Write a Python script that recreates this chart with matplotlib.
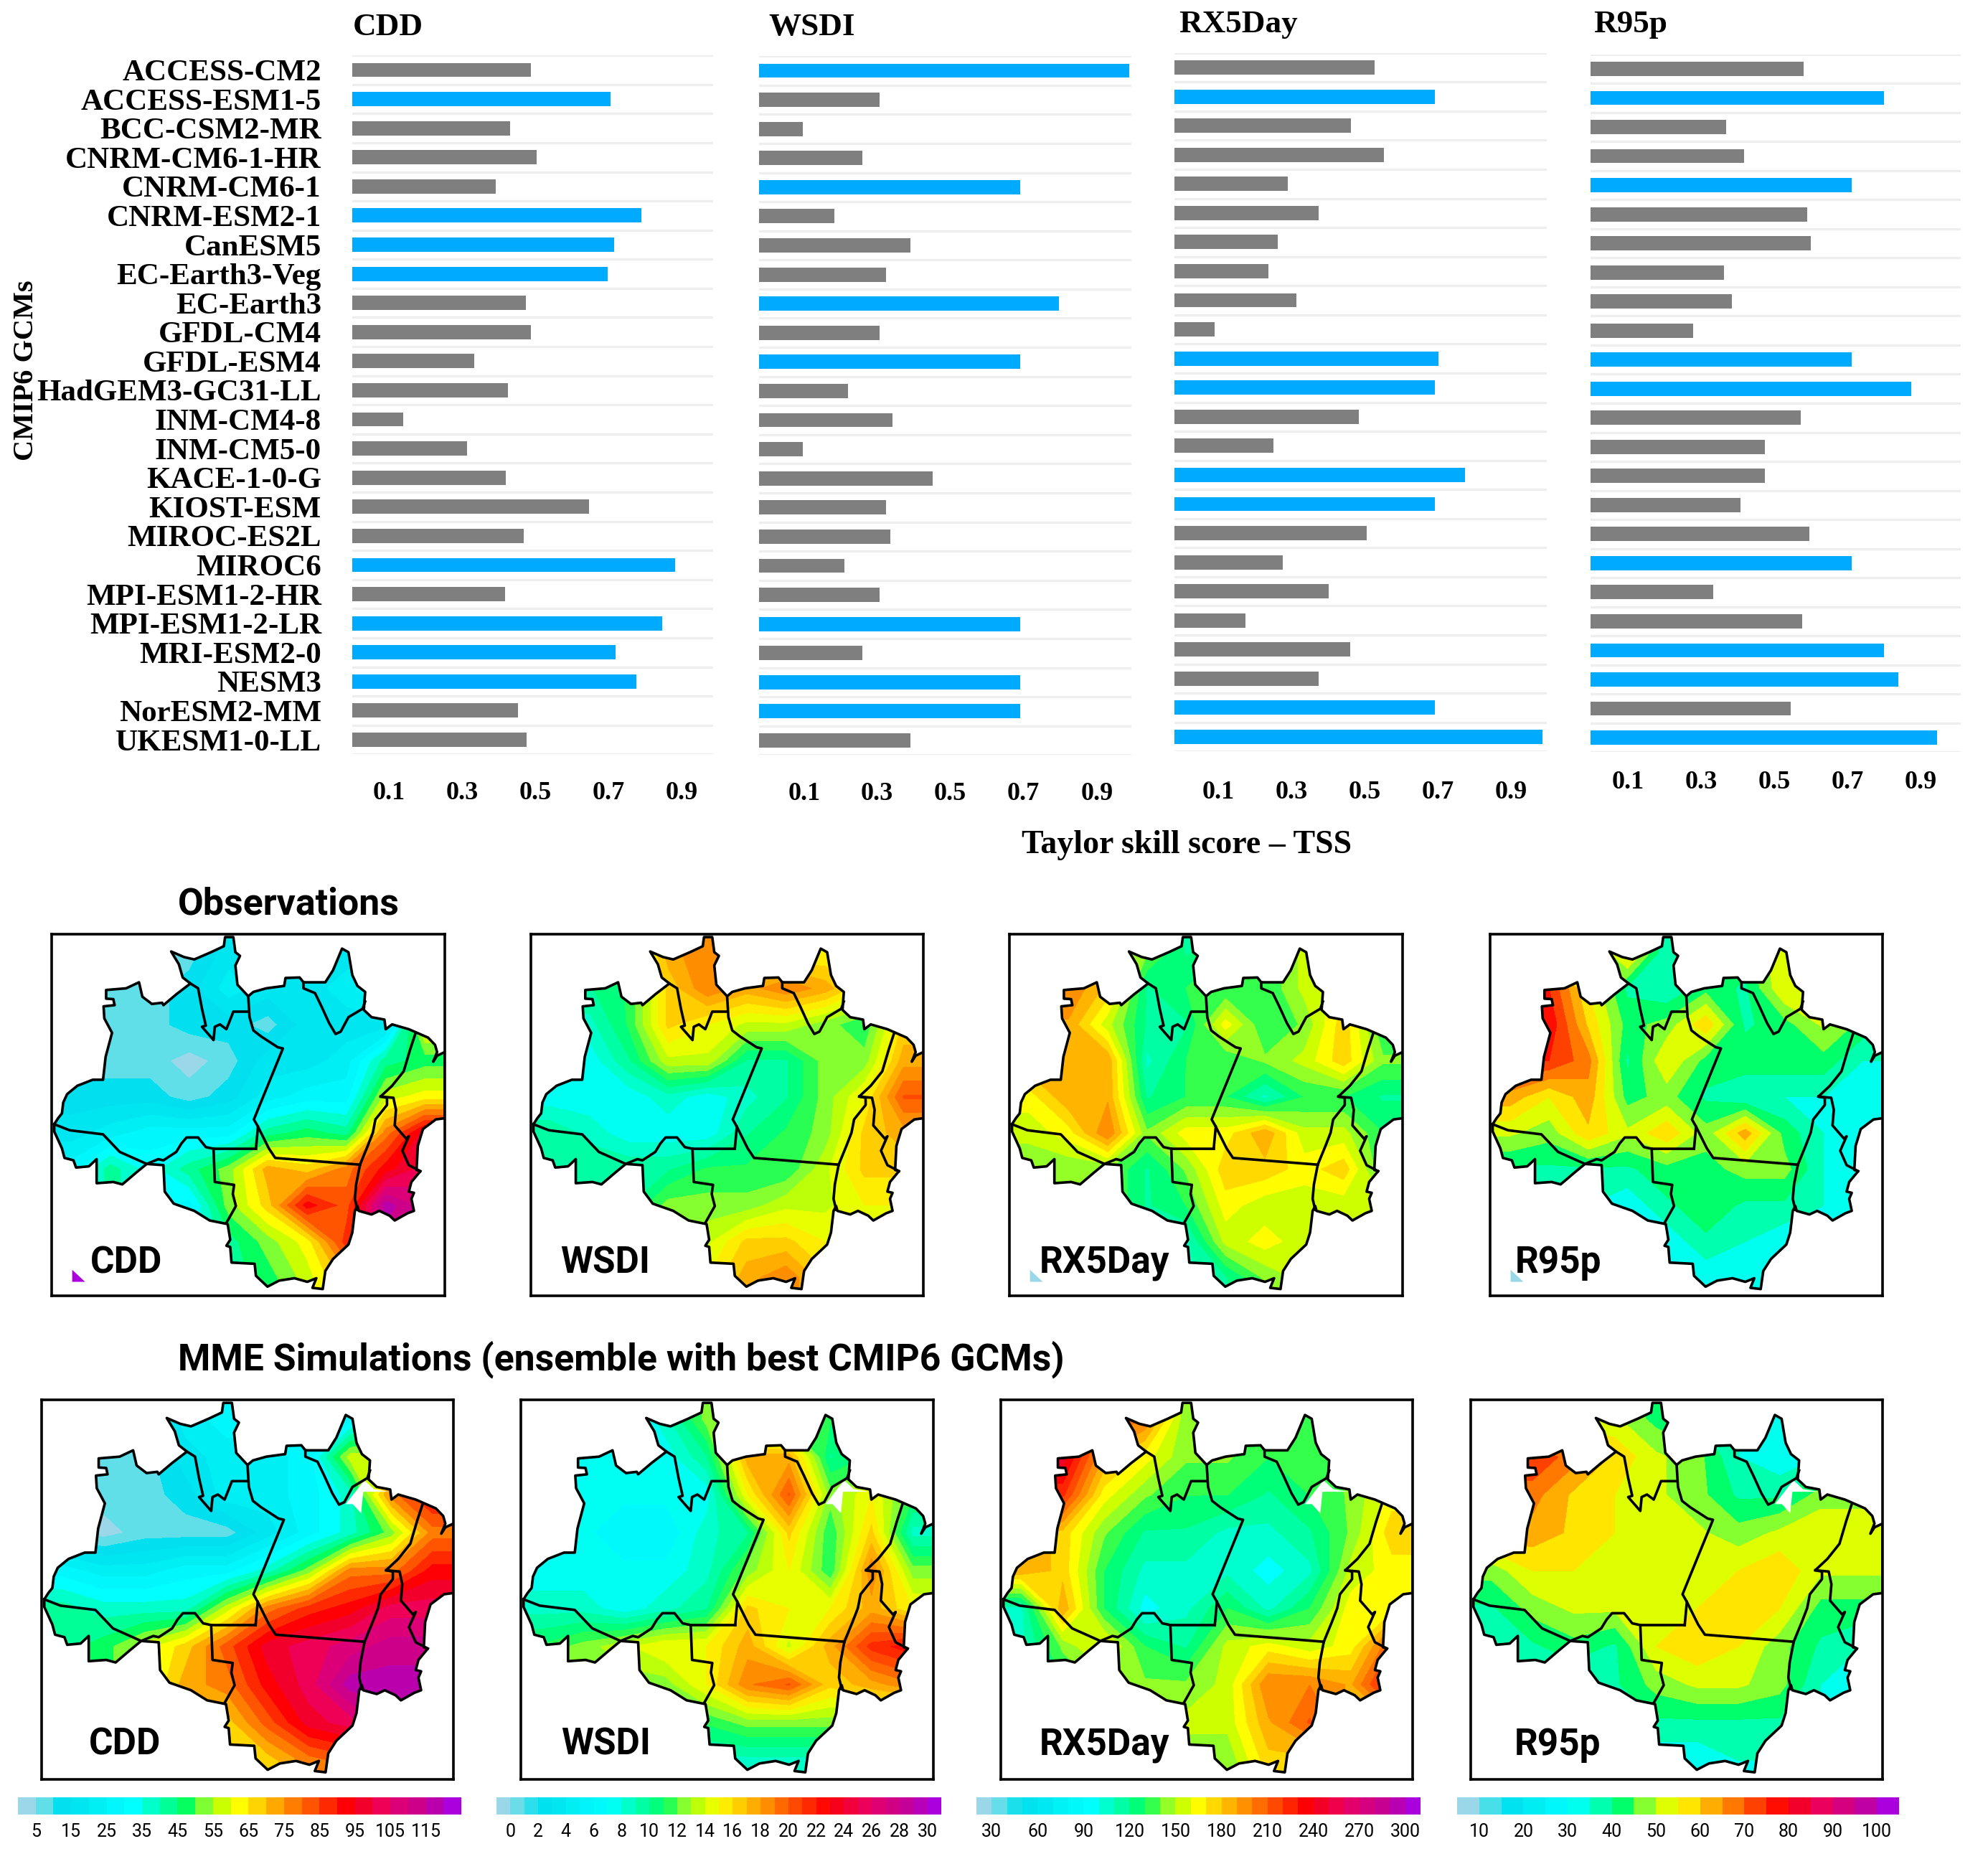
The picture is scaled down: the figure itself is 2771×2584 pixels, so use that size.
# -*- coding: utf-8 -*-
import numpy as np
import matplotlib
matplotlib.use('Agg')
import matplotlib.pyplot as plt
from matplotlib.colors import BoundaryNorm, LinearSegmentedColormap, ListedColormap
from matplotlib.patches import Polygon
from matplotlib.colorbar import ColorbarBase

W, H = 2771, 2584

# bar charts - Taylor skill score
models = ['ACCESS-CM2', 'ACCESS-ESM1-5', 'BCC-CSM2-MR', 'CNRM-CM6-1-HR', 'CNRM-CM6-1', 'CNRM-ESM2-1',
          'CanESM5', 'EC-Earth3-Veg', 'EC-Earth3', 'GFDL-CM4', 'GFDL-ESM4', 'HadGEM3-GC31-LL',
          'INM-CM4-8', 'INM-CM5-0', 'KACE-1-0-G', 'KIOST-ESM', 'MIROC-ES2L', 'MIROC6',
          'MPI-ESM1-2-HR', 'MPI-ESM1-2-LR', 'MRI-ESM2-0', 'NESM3', 'NorESM2-MM', 'UKESM1-0-LL']
tss_cdd = [.489, .706, .431, .504, .392, .79, .716, .699, .475, .489, .333, .426,
           .14, .313, .419, .648, .469, .883, .417, .848, .72, .776, .452, .476]
tss_wsdi = [1.012, .329, .119, .283, .714, .205, .413, .348, .819, .329, .714, .244,
            .365, .119, .474, .348, .359, .234, .329, .714, .283, .714, .714, .413]
tss_rx5 = [.547, .711, .482, .573, .309, .394, .283, .257, .333, .11, .722, .711,
           .504, .27, .794, .711, .525, .296, .422, .195, .48, .394, .711, 1.005]
tss_r95 = [.582, .802, .37, .419, .714, .592, .601, .365, .387, .281, .714, .876,
           .575, .476, .476, .409, .599, .714, .335, .579, .802, .841, .547, .947]
tss_ticks = [0.1, 0.3, 0.5, 0.7, 0.9]
index_names = ['CDD', 'WSDI', 'RX5Day', 'R95p']

# colour bars: class edges and the labelled values
bins_cdd = list(range(0, 130, 5))
bins_wsdi = list(range(-1, 32, 1))
bins_rx5 = list(range(20, 320, 10))
bins_r95 = list(range(5, 110, 5))
ticks_cdd = [5, 15, 25, 35, 45, 55, 65, 75, 85, 95, 105, 115]
ticks_wsdi = list(range(0, 32, 2))
ticks_rx5 = list(range(30, 330, 30))
ticks_r95 = list(range(10, 110, 10))

ramp = ['#9ad7e8', '#5cdfe9', '#00dfee', '#00e6f0', '#00eff5', '#00f7fb', '#00ffff', '#00ffc8',
        '#00ff96', '#00ff60', '#80ff33', '#c8ff00', '#ffff00', '#ffd500', '#ffaa00', '#ff8000',
        '#ff5500', '#ff2a00', '#ff0000', '#f2002a', '#f00055', '#dd0077', '#cc0088', '#bb00aa', '#aa00dd']

# map fields, read as position along the colour bar (0 = first class, 24 = last), 10 x 10 cells
obs_cdd = [[1, 1, 1, 1, 3, 3, 3, 3, 3, 3],
           [1, 1, 1, 2, 4, 3, 3, 4, 6, 6],
           [1, 1, 1, 2, 2, 1, 3, 3, 3, 12],
           [1, 1, 1, 0, 1, 3, 3, 4, 8, 9],
           [2, 2, 2, 1, 2, 4, 5, 5, 11, 12],
           [3, 4, 5, 5, 5, 8, 9, 8, 15, 19],
           [5, 8, 6, 8, 10, 14, 13, 15, 18, 20],
           [5, 8, 6, 5, 10, 13, 18, 16, 23, 21],
           [5, 8, 6, 6, 8, 10, 12, 17, 22, 21],
           [6, 8, 6, 6, 8, 9, 11, 14, 21, 21]]
obs_wsdi = [[10, 10, 10, 14, 15, 13, 12, 12, 13, 13],
            [8, 8, 9, 13, 15, 14, 15, 14, 12, 12],
            [7, 7, 9, 13, 12, 11, 11, 10, 9, 13],
            [6, 6, 8, 11, 11, 8, 8, 10, 10, 14],
            [6, 6, 6, 7, 6, 7, 8, 10, 12, 16],
            [8, 7, 6, 6, 6, 8, 9, 10, 13, 14],
            [8, 8, 8, 8, 9, 9, 9, 11, 13, 13],
            [8, 8, 8, 10, 10, 10, 11, 11, 12, 12],
            [8, 8, 8, 10, 11, 13, 13, 12, 12, 12],
            [8, 8, 8, 10, 12, 14, 15, 13, 12, 12]]
obs_rx5 = [[11, 11, 11, 10, 8, 9, 9, 11, 11, 11],
           [15, 15, 13, 8, 9, 9, 9, 11, 12, 12],
           [14, 14, 11, 8, 8, 12, 9, 10, 13, 9],
           [14, 14, 14, 7, 9, 9, 10, 11, 13, 10],
           [12, 14, 14, 8, 9, 9, 7, 9, 9, 8],
           [11, 12, 15, 10, 12, 12, 14, 11, 11, 9],
           [10, 10, 10, 8, 10, 13, 13, 12, 13, 9],
           [10, 10, 10, 8, 9, 12, 11, 11, 11, 11],
           [8, 8, 8, 8, 7, 11, 12, 11, 11, 11],
           [8, 8, 8, 7, 7, 8, 10, 11, 11, 11]]
obs_r95 = [[8, 8, 8, 13, 7, 8, 9, 12, 12, 12],
           [17, 17, 12, 8, 7, 9, 8, 12, 12, 10],
           [18, 18, 13, 9, 10, 13, 8, 9, 11, 9],
           [17, 17, 15, 8, 12, 9, 9, 9, 9, 7],
           [14, 12, 14, 9, 10, 8, 7, 7, 7, 6],
           [11, 10, 13, 11, 13, 10, 14, 9, 7, 6],
           [8, 8, 8, 8, 9, 9, 10, 10, 7, 7],
           [7, 7, 7, 6, 8, 9, 8, 8, 7, 7],
           [7, 7, 7, 6, 6, 8, 7, 6, 7, 7],
           [6, 6, 6, 6, 6, 6, 6, 6, 6, 6]]
mme_cdd = [[1, 1, 1, 4, 5, 5, 5, 5, 6, 6],
           [1, 1, 1, 3, 4, 4, 5, 11, 11, 11],
           [1, 1, 1, 2, 4, 4, 5, 7, 15, 18],
           [1, 0, 1, 1, 1, 3, 5, 7, 10, 15],
           [5, 4, 4, 5, 5, 7, 10, 15, 15, 18],
           [8, 7, 7, 7, 11, 15, 17, 18, 20, 20],
           [8, 9, 11, 13, 16, 19, 20, 21, 22, 22],
           [9, 9, 11, 14, 15, 18, 20, 23, 23, 23],
           [9, 9, 11, 13, 13, 16, 19, 20, 22, 22],
           [9, 9, 11, 13, 13, 13, 15, 16, 16, 16]]
mme_wsdi = [[5, 5, 5, 7, 10, 8, 8, 9, 9, 9],
            [6, 6, 6, 6, 8, 14, 14, 8, 9, 9],
            [6, 6, 6, 6, 6, 12, 16, 10, 12, 9],
            [6, 6, 5, 5, 7, 8, 13, 9, 13, 7],
            [6, 6, 6, 6, 7, 10, 12, 9, 15, 10],
            [7, 7, 6, 7, 8, 13, 12, 12, 14, 12],
            [9, 10, 11, 12, 12, 14, 11, 14, 17, 18],
            [9, 10, 10, 10, 12, 15, 16, 13, 14, 15],
            [9, 9, 9, 9, 9, 10, 10, 10, 10, 10],
            [7, 7, 7, 7, 7, 7, 7, 7, 7, 7]]
mme_rx5 = [[16, 16, 16, 15, 10, 10, 9, 9, 10, 10],
           [19, 19, 14, 12, 10, 10, 9, 9, 10, 10],
           [17, 17, 12, 10, 9, 9, 8, 9, 10, 12],
           [14, 13, 10, 8, 8, 7, 7, 8, 10, 13],
           [14, 13, 9, 7, 7, 7, 6, 7, 11, 12],
           [7, 14, 9, 6, 7, 9, 7, 9, 12, 12],
           [7, 10, 12, 9, 8, 11, 12, 11, 12, 16],
           [7, 9, 10, 10, 10, 11, 15, 15, 14, 18],
           [7, 9, 10, 10, 11, 11, 14, 16, 14, 14],
           [7, 9, 10, 10, 10, 10, 13, 13, 13, 13]]
mme_r95 = [[11, 11, 11, 11, 9, 8, 7, 6, 6, 6],
           [17, 17, 15, 13, 11, 10, 7, 6, 7, 7],
           [15, 15, 13, 12, 11, 10, 8, 8, 10, 10],
           [14, 14, 13, 12, 11, 11, 10, 11, 12, 12],
           [10, 12, 12, 11, 11, 11, 12, 13, 11, 11],
           [8, 10, 11, 11, 11, 12, 13, 12, 9, 9],
           [7, 8, 9, 8, 12, 13, 12, 10, 8, 7],
           [7, 7, 7, 8, 10, 11, 11, 10, 7, 7],
           [7, 7, 7, 7, 8, 8, 8, 8, 7, 7],
           [6, 6, 6, 6, 6, 6, 7, 7, 7, 7]]

# outline of the region and the state borders
outline = [(15, 790), (30, 765), (45, 745), (50, 700), (65, 665), (105, 630), (165, 605), (205, 605), (215, 510),
           (240, 410), (210, 350), (207, 300), (250, 295), (245, 270), (217, 268), (217, 232), (295, 225), (345, 200),
           (358, 260), (395, 290), (435, 285), (440, 295), (490, 250), (545, 205), (515, 180), (500, 125), (470, 72),
           (520, 95), (560, 105), (625, 75), (675, 50), (680, 12), (712, 12), (720, 75), (738, 90), (720, 130),
           (728, 210), (770, 258), (790, 240), (840, 225), (910, 215), (915, 182), (970, 180), (985, 200), (1070, 200),
           (1100, 150), (1135, 60), (1160, 75), (1175, 170), (1195, 215), (1225, 240), (1220, 315), (1250, 345),
           (1300, 355), (1305, 395), (1330, 375), (1395, 395), (1470, 430), (1497, 460), (1505, 490), (1490, 530),
           (1505, 505), (1535, 490), (1535, 765), (1500, 770), (1450, 810), (1430, 880), (1425, 980), (1440, 985),
           (1405, 1030), (1395, 1070), (1415, 1075), (1405, 1100), (1415, 1150), (1390, 1160), (1340, 1190),
           (1320, 1170), (1280, 1150), (1250, 1165), (1200, 1150), (1195, 1130), (1185, 1150), (1175, 1240),
           (1160, 1290), (1100, 1350), (1070, 1400), (1060, 1475), (1020, 1470), (1035, 1430), (1000, 1445),
           (950, 1430), (890, 1440), (845, 1465), (800, 1420), (795, 1370), (705, 1365), (700, 1300), (685, 1295),
           (700, 1270), (690, 1205), (620, 1190), (560, 1150), (480, 1120), (445, 1070), (440, 960), (375, 955),
           (335, 990), (280, 1040), (245, 1030), (180, 1035), (180, 935), (150, 965), (100, 970), (90, 940),
           (55, 930), (45, 890), (15, 820)]
border_acre = [(15, 790), (75, 815), (205, 832), (270, 905), (375, 955), (420, 935), (440, 940), (490, 905),
               (510, 870), (530, 845), (575, 845), (605, 885), (635, 892), (800, 892)]
border_para_am = [(800, 892), (808, 800), (792, 770), (905, 475), (885, 470), (820, 425), (790, 400), (775, 345),
                  (770, 258)]
border_roraima = [(545, 205), (575, 225), (590, 310), (605, 380), (590, 385), (635, 440), (640, 385), (660, 375),
                  (685, 395), (700, 355), (712, 322), (768, 322)]
border_rondonia = [(635, 892), (640, 1030), (715, 1042), (710, 1080), (722, 1130), (685, 1200)]
border_para_mt = [(808, 800), (850, 890), (875, 930), (1205, 958)]
border_para_east = [(1205, 958), (1235, 880), (1255, 825), (1265, 770), (1310, 710), (1310, 680), (1285, 675),
                    (1330, 630), (1375, 570), (1400, 480), (1420, 415)]
border_maranhao = [(1285, 675), (1335, 680), (1345, 730), (1340, 795), (1385, 850), (1395, 840), (1370, 900),
                   (1395, 960), (1440, 985)]
border_mt_to = [(1205, 958), (1190, 1040), (1185, 1100), (1195, 1145)]
border_amapa = [(985, 200), (985, 225), (1030, 245), (1055, 300), (1085, 370), (1110, 415), (1130, 405), (1160, 345),
                (1215, 310), (1225, 280)]
coast_gap = [(1135, 413), (1204, 319), (1240, 354), (1295, 364), (1200, 364), (1192, 449), (1161, 413)]
speck = [(85, 1395), (135, 1445), (85, 1445)]


def px_axes(fig, x0, y0, x1, y1):
    return fig.add_axes([x0 / W, 1 - y1 / H, (x1 - x0) / W, (y1 - y0) / H])


def bar_panel(fig, vals, x0, x1, y_first, y_last, tick_shift, tick_pad, labels):
    pitch = (y_last - y_first) / 23
    ax = px_axes(fig, x0, y_first - pitch / 2, x1, y_last + pitch / 2)
    colors = ['#00aaff' if v > 0.68 else '#7f7f7f' for v in vals]
    ax.barh(range(24), vals, height=0.49, color=colors, zorder=3)
    ax.set_ylim(23.5, -0.5)
    ax.set_xlim(0, (x1 - x0) / 510)
    for i in range(25):
        ax.axhline(i - 0.5, color='#eeeeee', lw=2.4, zorder=1)
    ax.set_xticks([t + tick_shift for t in tss_ticks])
    ax.set_xticklabels(['%.1f' % t for t in tss_ticks], family='Liberation Serif', weight='bold', fontsize=26)
    ax.tick_params(axis='x', length=0, pad=tick_pad)
    if labels:
        ax.set_yticks(range(24))
        ax.set_yticklabels(models, family='Liberation Serif', weight='bold', fontsize=31)
        ax.tick_params(axis='y', length=0, pad=31)
    else:
        ax.set_yticks([])
    for s in ax.spines.values():
        s.set_visible(False)
    return ax


def map_panel(fig, box, field, bins, cmap, name, name_x, gap=False, corner=None):
    ax = px_axes(fig, *box)
    lo, hi = bins[0], bins[-1]
    z = lo + (np.array(field, dtype=float) + 0.5) / 25 * (hi - lo)
    x = 5 + 153 * (np.arange(10) + 0.5)
    y = 150.3 * (np.arange(10) + 0.5)
    # extend to the frame so the contours reach the clipped edge
    x = np.r_[5, x, 1535]
    y = np.r_[0, y, 1503]
    z = np.pad(z, 1, mode='edge')
    cs = ax.contourf(x, y, z, levels=bins, cmap=cmap, norm=BoundaryNorm(bins, cmap.N), extend='both')
    clip = Polygon(outline, closed=True, transform=ax.transData, fc='none', ec='none')
    ax.add_patch(clip)
    cs.set_clip_path(clip)
    if gap:
        ax.add_patch(Polygon(coast_gap, closed=True, fc='white', ec='none', zorder=4))
    if corner:
        ax.add_patch(Polygon(speck, closed=True, fc=corner, ec='none', zorder=4))
    pts = np.array(outline + outline[:1])
    ax.plot(pts[:, 0], pts[:, 1], color='k', lw=2.6, zorder=5)
    for b in [border_acre, border_para_am, border_roraima, border_rondonia, border_para_mt,
              border_para_east, border_maranhao, border_mt_to, border_amapa]:
        b = np.array(b)
        ax.plot(b[:, 0], b[:, 1], color='k', lw=2.6, zorder=5)
    ax.set_xlim(5, 1535)
    ax.set_ylim(1503, 0)
    ax.set_xticks([])
    ax.set_yticks([])
    for s in ax.spines.values():
        s.set_linewidth(2.6)
    ax.text(name_x, 0.091, name, transform=ax.transAxes, family='Roboto', weight='bold', fontsize=37,
            ha='left', va='center', zorder=6)
    return ax


def color_bar(fig, x0, x1, bins, ticks, cmap):
    ax = px_axes(fig, x0, 2505, x1, 2529)
    cb = ColorbarBase(ax, cmap=cmap, norm=BoundaryNorm(bins, cmap.N), orientation='horizontal',
                      ticks=ticks, spacing='uniform', drawedges=False)
    cb.outline.set_visible(False)
    ax.minorticks_off()
    ax.tick_params(axis='x', length=0, pad=9)
    ax.set_xticklabels([str(t) for t in ticks], family='Roboto', fontsize=18)


fig = plt.figure(figsize=(W / 100, H / 100), dpi=100)

base = LinearSegmentedColormap.from_list('ramp', ramp)
all_bins = [bins_cdd, bins_wsdi, bins_rx5, bins_r95]
all_ticks = [ticks_cdd, ticks_wsdi, ticks_rx5, ticks_r95]
cmaps = [ListedColormap(base(np.linspace(0, 1, len(b) - 1))) for b in all_bins]

# top row
bar_panel(fig, tss_cdd, 491, 994, 97.5, 1031, 0, 27, True)
bar_panel(fig, tss_wsdi, 1058, 1577, 98.5, 1032, 0.023, 27.5, False)
bar_panel(fig, tss_rx5, 1637, 2156, 94, 1027, 0.02, 29.5, False)
bar_panel(fig, tss_r95, 2217, 2733, 96, 1028, 0.003, 18.5, False)

title_x = [492, 1071, 1643, 2221]
title_y = [38, 38, 34, 34]
for i in range(4):
    fig.text(title_x[i] / W, 1 - title_y[i] / H, index_names[i], family='Liberation Serif', weight='bold',
             fontsize=32.5, ha='left', va='center')
fig.text(37 / W, 1 - 516 / H, 'CMIP6 GCMs', family='Liberation Serif', weight='bold', fontsize=29,
         rotation=90, ha='center', va='center')
fig.text(1654 / W, 1 - 1178 / H, 'Taylor skill score \u2013 TSS', family='Liberation Serif', weight='bold',
         fontsize=33, ha='center', va='center')

fig.text(248 / W, 1 - 1260 / H, 'Observations', family='Roboto', weight='bold', fontsize=37.4, ha='left', va='center')
fig.text(248 / W, 1 - 1895 / H, 'MME Simulations (ensemble with best CMIP6 GCMs)', family='Roboto', weight='bold',
         fontsize=37.3, ha='left', va='center')

# observed maps
obs_boxes = [(72, 1302, 620, 1806), (740, 1302, 1287, 1806), (1407, 1302, 1955, 1806), (2077, 1302, 2624, 1806)]
obs_fields = [obs_cdd, obs_wsdi, obs_rx5, obs_r95]
obs_name_x = [0.098, 0.076, 0.076, 0.064]
obs_corner = [ramp[-1], None, ramp[0], ramp[0]]
for i in range(4):
    map_panel(fig, obs_boxes[i], obs_fields[i], all_bins[i], cmaps[i], index_names[i], obs_name_x[i],
              corner=obs_corner[i])

# ensemble maps
mme_boxes = [(58, 1951, 632, 2480), (726, 1951, 1301, 2480), (1395, 1951, 1969, 2480), (2050, 1951, 2624, 2480)]
mme_fields = [mme_cdd, mme_wsdi, mme_rx5, mme_r95]
mme_name_x = [0.115, 0.097, 0.093, 0.105]
for i in range(4):
    map_panel(fig, mme_boxes[i], mme_fields[i], all_bins[i], cmaps[i], index_names[i], mme_name_x[i], gap=True)

# colour bars
bar_x = [(25, 643), (692, 1312), (1361, 1980), (2031, 2647)]
for i in range(4):
    color_bar(fig, bar_x[i][0], bar_x[i][1], all_bins[i], all_ticks[i], cmaps[i])

fig.savefig('out.png', dpi=100)
